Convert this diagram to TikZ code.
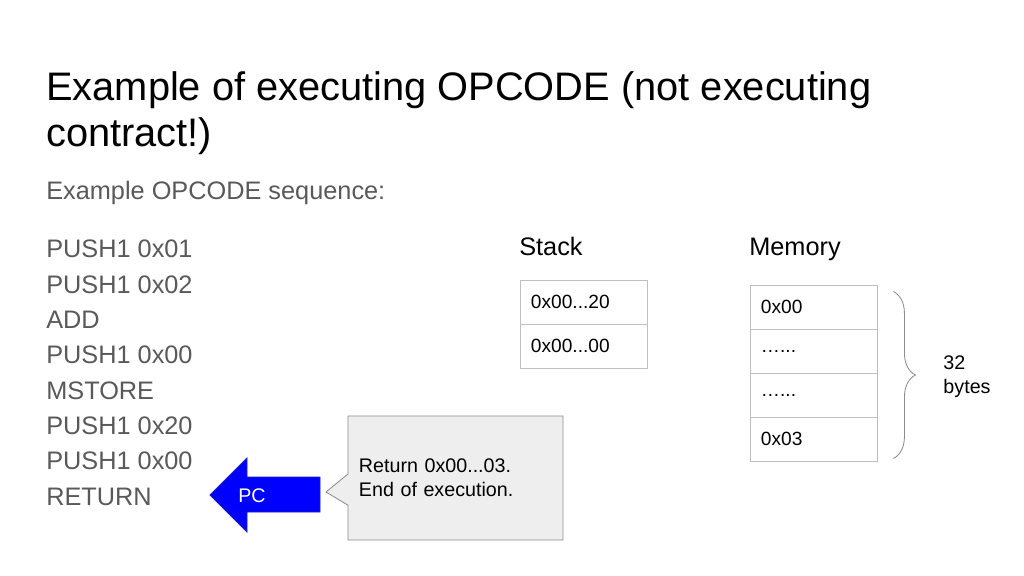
\documentclass[tikz,border=0pt]{standalone}
\usepackage{fontspec}
\setmainfont{Liberation Sans}
\usetikzlibrary{positioning,calc,shapes.callouts,decorations.pathreplacing}
\definecolor{bodygray}{HTML}{595959}
\definecolor{cellgray}{HTML}{BFBFBF}
\definecolor{notefill}{HTML}{EEEEEE}
\definecolor{noteline}{HTML}{8C8C8C}
\definecolor{pcblue}{HTML}{0000FF}
\definecolor{pcline}{HTML}{2020C0}
\tikzset{
  slidetitle/.style={inner sep=0pt, anchor=base west, font=\fontsize{28.3}{33}\selectfont},
  bodytext/.style={inner sep=0pt, anchor=base west, text=bodygray, font=\fontsize{18}{22}\selectfont},
  heading/.style={inner sep=0pt, anchor=base west, font=\fontsize{18}{22}\selectfont},
  cell/.style={draw=cellgray, line width=0.6pt, minimum width=3.175cm, minimum height=1.1cm,
    text width=2.625cm, inner xsep=0.275cm, align=left, font=\fontsize{13.6}{16}\selectfont},
  callbox/.style={rectangle callout, draw=noteline, fill=notefill, line width=0.6pt,
    minimum width=5.375cm, minimum height=3.1cm, text width=4.825cm, inner xsep=0.275cm,
    align=left, callout pointer width=0.78cm, font=\fontsize{14}{17}\selectfont}
}
\begin{document}
\begin{tikzpicture}[x=0.025cm,y=-0.025cm]
        \useasboundingbox (0,0) rectangle (1024,576);
        % title and code listing
        \node[slidetitle] (title1) at (46,101) {Example of executing OPCODE (not executing};
        \node[slidetitle] (title2) at (46,147) {contract!)};
        \node[bodytext] (seq) at (46,200) {Example OPCODE sequence:};
        \foreach \op [count=\i from 0] in {PUSH1 0x01,PUSH1 0x02,ADD,PUSH1 0x00,MSTORE,PUSH1 0x20,PUSH1 0x00,RETURN}
        \node[bodytext] (op\i) at (46,{258+35.3*\i}) {\op};
        % stack
        \node[heading] (stacklbl) at (519,256) {Stack};
        \node[cell] (stack1) at (583.5,302) {0x00...20};
        \node[cell, below=-0.6pt of stack1] (stack2) {0x00...00};
        % memory
        \node[heading] (memlbl) at (749,256) {Memory};
        \node[cell] (mem1) at (813.5,307) {0x00};
        \node[cell, below=-0.6pt of mem1] (mem2) {…...};
        \node[cell, below=-0.6pt of mem2] (mem3) {…...};
        \node[cell, below=-0.6pt of mem3] (mem4) {0x03};
        \draw[noteline, line width=0.6pt, decorate, decoration={brace, amplitude=0.55cm, aspect=0.5}]
          ($(mem1.north east)+(16,7)$) -- ($(mem4.south east)+(16,-3)$);
        \node[inner sep=0pt, align=left, font=\fontsize{14}{17}\selectfont] (bytes) at (967,377) {32\\bytes};
        % program counter
        \draw[pcline, fill=pcblue, line width=0.6pt] (320,477) -- (247,477) -- (247,458) -- (210,495)
          -- (247,532) -- (247,512) -- (320,512) -- cycle;
        \node[text=white, inner sep=0pt, font=\fontsize{14}{17}\selectfont] (pc) at (252,496) {PC};
        \node[callbox, callout absolute pointer={(326,492)}] (note) at (455.5,478)
          {Return 0x00...03.\\End of execution.};
\end{tikzpicture}
\end{document}
